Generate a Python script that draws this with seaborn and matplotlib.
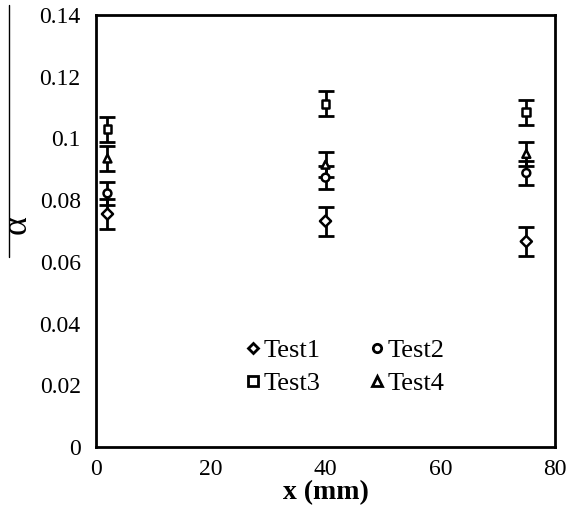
import numpy as np
import pandas as pd
import seaborn as sns
import matplotlib
matplotlib.use("Agg")
import matplotlib.pyplot as plt
from matplotlib.lines import Line2D

# Measurement positions (mm) and mean alpha values per test
positions = [2, 40, 75]
tests = ["Test1", "Test2", "Test3", "Test4"]
test1 = [0.0755, 0.0732, 0.0666]
test2 = [0.0822, 0.0873, 0.0888]
test3 = [0.1030, 0.1113, 0.1085]
test4 = [0.0935, 0.0915, 0.0950]
# Error bar half-widths
err1 = [0.0048, 0.0047, 0.0047]
err2 = [0.0038, 0.0038, 0.0038]
err3 = [0.0040, 0.0040, 0.0040]
err4 = [0.0040, 0.0040, 0.0040]

xticks = [0, 20, 40, 60, 80]
yticks = [0, 0.02, 0.04, 0.06, 0.08, 0.1, 0.12, 0.14]
ytick_labels = ["0", "0.02", "0.04", "0.06", "0.08", "0.1", "0.12", "0.14"]

df = pd.DataFrame({
    "x": positions * 4,
    "alpha": test1 + test2 + test3 + test4,
    "err": err1 + err2 + err3 + err4,
    "test": [t for t in tests for _ in positions],
})

sns.set_theme(style="white")
plt.rcParams["font.family"] = ["Liberation Serif", "DejaVu Serif"]

fig = plt.figure(figsize=(5.66, 5.13), dpi=100)
ax = fig.add_axes([0.1696, 0.1287, 0.811, 0.842])

markers = {"Test1": "D", "Test2": "o", "Test3": "s", "Test4": "^"}

for t in tests:
    sub = df[df["test"] == t]
    ax.errorbar(sub["x"], sub["alpha"], yerr=sub["err"], fmt="none",
                ecolor="black", elinewidth=2, capsize=5.5, capthick=2, zorder=2)

sns.scatterplot(data=df, x="x", y="alpha", style="test", markers=markers,
                s=32, facecolor="white", edgecolor="black", linewidth=1.8,
                color="white", legend=False, ax=ax, zorder=3)

ax.set_xlim(0, 80)
ax.set_ylim(0, 0.14)
ax.set_xticks(xticks)
ax.set_xticklabels([str(v) for v in xticks])
ax.set_yticks(yticks)
ax.set_yticklabels(ytick_labels)
ax.tick_params(direction="in", length=6, width=2, labelsize=17, color="black",
               labelcolor="black")
ax.tick_params(axis="y", pad=11)
ax.tick_params(axis="x", pad=9)
for s in ax.spines.values():
    s.set_color("black")
    s.set_linewidth(2)

ax.set_xlabel("x (mm)", fontsize=20, fontweight="bold", color="black", labelpad=0)
ax.set_ylabel("")
fig.text(0.03, 0.563, "α", rotation=90, fontsize=26, ha="center",
         va="center", color="black")
fig.add_artist(Line2D([0.016, 0.016], [0.499, 0.99], color="black", lw=1,
                      transform=fig.transFigure))

# Legend laid out row-wise: Test1 Test2 / Test3 Test4
order = ["Test1", "Test3", "Test2", "Test4"]
msize = {"Test1": 5.5, "Test2": 6, "Test3": 6.5, "Test4": 7}
handles = [Line2D([], [], ls="none", marker=markers[t], markersize=msize[t],
                  markerfacecolor="white", markeredgecolor="black",
                  markeredgewidth=2) for t in order]
leg = ax.legend(handles, order, ncol=2, frameon=False, fontsize=19,
                loc="upper left", bbox_to_anchor=(0.305, 0.275),
                handlelength=0.5, handletextpad=0.15, columnspacing=1.9,
                labelspacing=0.35, borderaxespad=0)
for txt in leg.get_texts():
    txt.set_color("black")

fig.savefig("out.png", dpi=100)
